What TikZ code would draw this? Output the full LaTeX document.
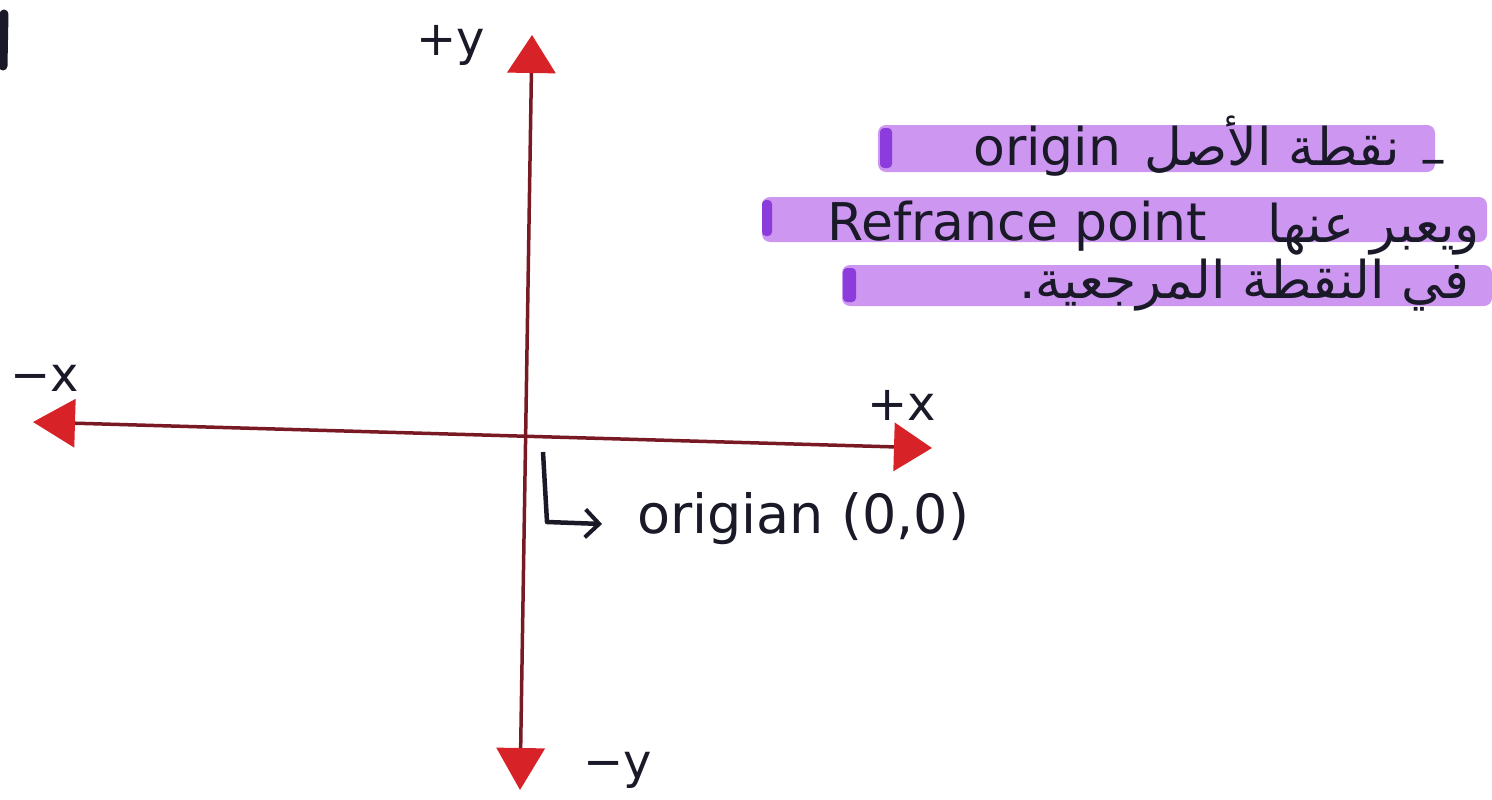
\documentclass[tikz,border=0pt]{standalone}
\usepackage{fontspec}
\setmainfont{DejaVu Sans}
\newfontfamily\arabicfont[Script=Arabic]{DejaVu Sans}
\TeXXeTstate=1
\usetikzlibrary{arrows.meta}

\definecolor{axisline}{RGB}{120,25,35}
\definecolor{arrowred}{RGB}{215,35,40}
\definecolor{ink}{RGB}{25,25,40}
\definecolor{hilite}{RGB}{205,150,240}
\definecolor{hilitedark}{RGB}{140,60,220}

\begin{document}
\begin{tikzpicture}[x=1pt,y=-1pt,
  axisarrow/.style={draw=axisline, line width=3.5pt, {Triangle[length=42pt,width=48pt,color=arrowred,fill=arrowred]}-{Triangle[length=38pt,width=48pt,color=arrowred,fill=arrowred]}},
  lbl/.style={text=ink, font=\fontsize{48}{56}\selectfont, inner sep=0pt},
  note/.style={text=ink, font=\fontsize{52}{60}\selectfont, inner sep=0pt},
  ar/.style={text=ink, font=\arabicfont\fontsize{52}{60}\selectfont, inner sep=0pt},
  bar/.style={fill=hilite, draw=none, rounded corners=8pt},
  barend/.style={fill=hilitedark, draw=none, rounded corners=4pt},
  hook/.style={draw=ink, line width=4.5pt, line join=round, -{Straight Barb[length=14pt,width=28pt,line width=4pt]}},
]
\useasboundingbox (0,0) rectangle (1492,800);

% stray mark top left
\draw[ink, line width=9pt, line cap=round] (4,14) -- (3,66);

% highlighter bars
\path[bar] (878,125) rectangle (1435,172);
\path[barend] (880,128) rectangle (892,168);
\path[bar] (762,197) rectangle (1487,242);
\path[barend] (762,200) rectangle (772,236);
\path[bar] (842,265) rectangle (1492,306);
\path[barend] (843,268) rectangle (856,302);

% axes
\coordinate (xl) at (33,422);
\coordinate (xr) at (932,448);
\coordinate (yb) at (520,790);
\coordinate (yt) at (532,35);
\draw[axisarrow] (xl) -- (xr);
\draw[axisarrow] (yb) -- (yt);

% axis labels
\node[lbl] (py) at (451,45) {+y};
\node[lbl] (my) at (618,770) {−y};
\node[lbl] (mx) at (45,378) {−x};
\node[lbl] (px) at (902,405) {+x};

% origin label
\node[text=ink, font=\fontsize{54}{62}\selectfont, inner sep=0pt, anchor=base west] (orig) at (637,533) {origian (0,0)};
\coordinate (h0) at (543,452);
\coordinate (h1) at (547,522);
\coordinate (h2) at (602,524);
\draw[hook] (h0) -- (h1) -- (h2);

% notes
\node[note, anchor=base west] (t1a) at (973,165) {origin};
\node[ar, anchor=base east] (t1b) at (1400,165) {\beginR نقطة الأصل\endR};
\node[note] (t1c) at (1433,168) {–};
\node[note, anchor=base west] (t2a) at (827,240) {Refrance point};
\node[ar, anchor=base east] (t2b) at (1480,242) {\beginR ويعبر عنها\endR};
\node[ar, anchor=base east] (t3) at (1470,298) {\beginR في النقطة المرجعية.\endR};
\end{tikzpicture}
\end{document}
